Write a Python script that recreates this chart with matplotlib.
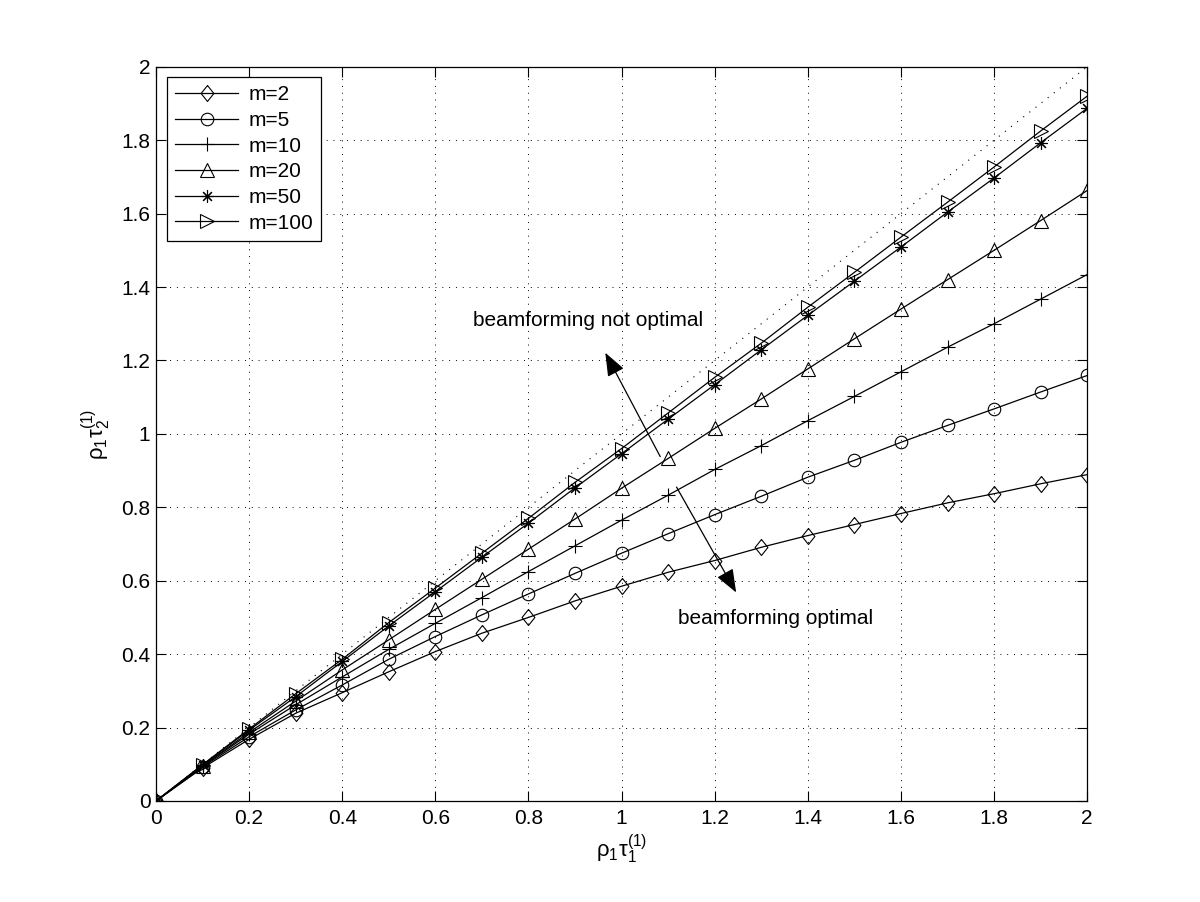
import matplotlib
matplotlib.use('Agg')
import matplotlib.pyplot as plt
from matplotlib.ticker import FuncFormatter

plt.rcParams['font.family'] = ['Liberation Sans', 'DejaVu Sans']
plt.rcParams['mathtext.fontset'] = 'custom'
plt.rcParams['mathtext.rm'] = 'Liberation Sans'
plt.rcParams['mathtext.it'] = 'Liberation Sans:italic'

# x axis: rho_1 * tau_1^(1)
rho_tau1 = [0.0, 0.1, 0.2, 0.3, 0.4, 0.5, 0.6, 0.7, 0.8, 0.9, 1.0,
            1.1, 1.2, 1.3, 1.4, 1.5, 1.6, 1.7, 1.8, 1.9, 2.0]

# y values for each m
m2 = [0, 0.090, 0.168, 0.239, 0.295, 0.352, 0.407, 0.457, 0.500, 0.545, 0.585,
      0.623, 0.655, 0.691, 0.723, 0.753, 0.783, 0.812, 0.837, 0.864, 0.889]
m5 = [0, 0.093, 0.175, 0.248, 0.316, 0.386, 0.448, 0.507, 0.564, 0.620, 0.675,
      0.728, 0.780, 0.830, 0.882, 0.928, 0.977, 1.023, 1.068, 1.114, 1.159]
m10 = [0, 0.095, 0.182, 0.262, 0.338, 0.413, 0.484, 0.554, 0.625, 0.695, 0.765,
       0.833, 0.903, 0.968, 1.036, 1.102, 1.169, 1.236, 1.300, 1.367, 1.434]
m20 = [0, 0.096, 0.187, 0.272, 0.357, 0.439, 0.522, 0.604, 0.686, 0.768, 0.852,
       0.933, 1.015, 1.095, 1.177, 1.259, 1.340, 1.420, 1.500, 1.581, 1.663]
m50 = [0, 0.098, 0.193, 0.284, 0.380, 0.477, 0.570, 0.664, 0.757, 0.853, 0.946,
       1.040, 1.134, 1.229, 1.323, 1.416, 1.509, 1.604, 1.697, 1.793, 1.887]
m100 = [0, 0.099, 0.196, 0.292, 0.386, 0.486, 0.580, 0.675, 0.770, 0.868, 0.960,
        1.057, 1.154, 1.247, 1.345, 1.440, 1.536, 1.631, 1.727, 1.825, 1.920]

labels = ['m=2', 'm=5', 'm=10', 'm=20', 'm=50', 'm=100']
diamond = [(0, 1), (0.8, 0), (0, -1), (-0.8, 0), (0, 1)]
markers = [diamond, 'o', '+', '^', (8, 2, 0), '>']
sizes = [11.5, 9, 10, 9.5, 9, 9.5]

fs = 15
fig = plt.figure(figsize=(12, 9.02), dpi=100)
ax = fig.add_axes([0.13, 0.112, 0.776, 0.814])

# reference line y = x
ax.plot([0, 2], [0, 2], color='k', lw=0.8, linestyle=(0, (1, 6)))

for ys, mk, ms, lab in zip([m2, m5, m10, m20, m50, m100], markers, sizes, labels):
    ax.plot(rho_tau1, ys, color='k', lw=0.9, marker=mk, ms=ms,
            mfc='none', mec='k', mew=0.8, label=lab)

ax.set_xlim(0, 2)
ax.set_ylim(0, 2)
ticks = [0, 0.2, 0.4, 0.6, 0.8, 1.0, 1.2, 1.4, 1.6, 1.8, 2.0]
ax.set_xticks(ticks)
ax.set_yticks(ticks)
fmt = FuncFormatter(lambda v, p: '%g' % v)
ax.xaxis.set_major_formatter(fmt)
ax.yaxis.set_major_formatter(fmt)
ax.tick_params(direction='in', length=7, width=0.8, top=True, right=True,
               labelsize=fs)
ax.tick_params(axis='x', pad=6)
ax.tick_params(axis='y', pad=4)
for s in ax.spines.values():
    s.set_linewidth(0.9)
ax.grid(True, color='k', lw=0.7, linestyle=(0, (1, 6)))

ax.set_xlabel(r'ρ$_1$τ$_1^{(1)}$', fontsize=fs + 1, labelpad=3)
ax.set_ylabel(r'ρ$_1$τ$_2^{(1)}$', fontsize=fs + 1, labelpad=6)

ax.annotate('', xy=(0.965, 1.221), xytext=(1.083, 0.938),
            arrowprops=dict(arrowstyle='-|>,head_length=0.9,head_width=0.35',
                            color='k', lw=0.9, shrinkA=0, shrinkB=0,
                            mutation_scale=16))
ax.annotate('', xy=(1.246, 0.568), xytext=(1.118, 0.855),
            arrowprops=dict(arrowstyle='-|>,head_length=0.9,head_width=0.35',
                            color='k', lw=0.9, shrinkA=0, shrinkB=0,
                            mutation_scale=16))
ax.text(0.929, 1.31, 'beamforming not optimal', fontsize=fs,
        ha='center', va='center')
ax.text(1.331, 0.497, 'beamforming optimal', fontsize=fs,
        ha='center', va='center')

leg = ax.legend(loc='upper left', bbox_to_anchor=(0.0118, 0.986),
                borderaxespad=0, fontsize=fs, fancybox=False, framealpha=1,
                edgecolor='k', handlelength=3.0, labelspacing=0.32,
                borderpad=0.4, handletextpad=0.5)
leg.get_frame().set_linewidth(0.9)

fig.savefig('out.png', dpi=100, facecolor='white')
